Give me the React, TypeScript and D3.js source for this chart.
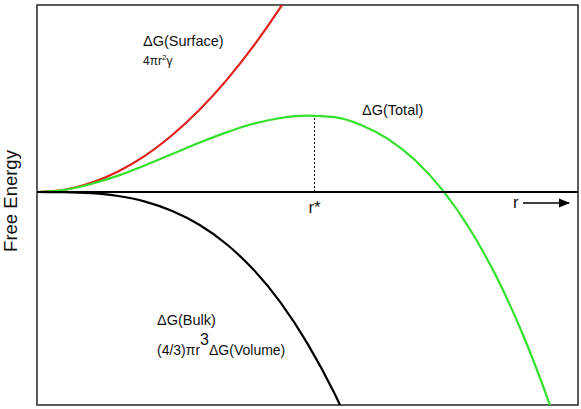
import * as d3 from "d3";

// radius samples (arbitrary units) and the three free-energy curves
const rValues = [0, 0.5, 1, 1.5, 2, 2.5, 3, 3.5, 4, 4.5, 5, 5.5, 6, 6.5, 7, 7.5, 8, 8.5, 9, 9.5, 10];
const surfaceValues = [0, 0.11, 0.46, 1.03, 1.82, 2.85, 4.1, 5.58, 7.29, 9.23, 11.4];
const bulkValues = [0, -0.01, -0.06, -0.2, -0.48, -0.95, -1.64, -2.6, -3.88, -5.52, -7.58, -10.08, -13.09];
const totalValues = [0, 0.1, 0.4, 0.82, 1.34, 1.9, 2.46, 2.98, 3.41, 3.7, 3.82, 3.74, 3.34, 2.63, 1.56, 0.08, -1.85, -4.28, -7.25, -10.8, -14.9];
const rStar = 5.13;
const energyStar = 3.8;

const W = 581;
const H = 409;
const box = { left: 37, right: 578, top: 5, bottom: 405 };

type Pt = [number, number];

function zip(vals: number[]): Pt[] {
  return vals.map((v, i) => [rValues[i], v] as Pt);
}

export default function App() {
  const x = d3.scaleLinear().domain([0, 10]).range([box.left, box.right]);
  const y = d3.scaleLinear().domain([-10.65, 9.35]).range([box.bottom, box.top]);

  const line = d3
    .line<Pt>()
    .x((d) => x(d[0]))
    .y((d) => y(d[1]))
    .curve(d3.curveMonotoneX);

  const font = "'Liberation Sans', Arial, sans-serif";

  return (
    <svg
      width={W}
      height={H}
      style={{ position: "absolute", left: 0, top: 0, background: "#fff" }}
      fontFamily={font}
    >
      <defs>
        <clipPath id="plot">
          <rect x={box.left} y={box.top} width={box.right - box.left} height={box.bottom - box.top} />
        </clipPath>
        <marker id="arrow" viewBox="0 0 10 10" refX="9" refY="5" markerWidth="7" markerHeight="7" orient="auto">
          <path d="M0,1 L10,5 L0,9 z" fill="#000" />
        </marker>
      </defs>

      <rect
        x={box.left}
        y={box.top}
        width={box.right - box.left}
        height={box.bottom - box.top}
        fill="none"
        stroke="#333"
        strokeWidth={1.6}
      />

      {/* r* marker */}
      <line
        x1={x(rStar)}
        x2={x(rStar)}
        y1={y(0)}
        y2={y(energyStar)}
        stroke="#000"
        strokeWidth={1}
        strokeDasharray="2 2"
      />

      <g clipPath="url(#plot)" fill="none" strokeWidth={2.2}>
        <path d={line(zip(surfaceValues)) ?? ""} stroke="#e0201c" />
        <path d={line(zip(bulkValues)) ?? ""} stroke="#000" />
        <path d={line(zip(totalValues)) ?? ""} stroke="#33e02a" />
      </g>

      {/* zero line */}
      <line x1={box.left} x2={box.right} y1={y(0)} y2={y(0)} stroke="#000" strokeWidth={2} />

      {/* labels */}
      <text x={143} y={46} fontSize={14.5} fill="#111">ΔG(Surface)</text>
      <text x={143} y={65} fontSize={12} fill="#111">
        4πr<tspan dy={-5} fontSize={8}>2</tspan><tspan dy={5}>γ</tspan>
      </text>
      <text x={362} y={115} fontSize={14.5} fill="#111">ΔG(Total)</text>
      <text x={157} y={325} fontSize={14.5} fill="#111">ΔG(Bulk)</text>
      <text x={157} y={355} fontSize={14} fill="#111">
        (4/3)πr<tspan dy={-10} fontSize={16}>3</tspan><tspan dy={10}>ΔG(Volume)</tspan>
      </text>
      <text x={x(rStar)} y={213} fontSize={17} textAnchor="middle" fill="#111">r*</text>
      <text x={513} y={208} fontSize={17} fill="#111">r</text>
      <line x1={523} x2={569} y1={203} y2={203} stroke="#000" strokeWidth={1.6} markerEnd="url(#arrow)" />

      <text
        transform={`translate(17,201) rotate(-90)`}
        textAnchor="middle"
        fontSize={18.5}
        fill="#111"
      >
        Free Energy
      </text>
    </svg>
  );
}
